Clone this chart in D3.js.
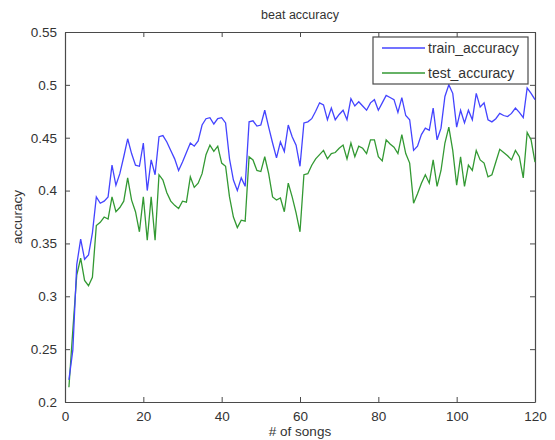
<!DOCTYPE html>
<html>
<head>
<meta charset="utf-8">
<script src="https://cdn.jsdelivr.net/npm/d3@7"></script>
<style>
  body { margin: 0; background: #fff; }
  svg text { font-family: "Liberation Sans", Arial, sans-serif; fill: #333; }
</style>
</head>
<body>
<svg id="chart" width="555" height="440"></svg>
<script>
// Data (songs 1..120)
const trainAcc = [
  0.221, 0.249, 0.330, 0.354, 0.335, 0.339, 0.360, 0.394, 0.388, 0.390,
  0.394, 0.424, 0.405, 0.416, 0.432, 0.449, 0.435, 0.424, 0.423, 0.445,
  0.400, 0.429, 0.415, 0.451, 0.452, 0.446, 0.438, 0.430, 0.419, 0.427,
  0.436, 0.445, 0.442, 0.447, 0.462, 0.468, 0.469, 0.463, 0.468, 0.469,
  0.464, 0.430, 0.410, 0.400, 0.412, 0.404, 0.465, 0.466, 0.461, 0.462,
  0.476, 0.460, 0.445, 0.431, 0.446, 0.437, 0.462, 0.451, 0.443, 0.423,
  0.464, 0.465, 0.468, 0.475, 0.483, 0.481, 0.467, 0.478, 0.467, 0.472,
  0.476, 0.467, 0.487, 0.480, 0.484, 0.480, 0.476, 0.483, 0.486, 0.476,
  0.483, 0.490, 0.488, 0.486, 0.474, 0.488, 0.471, 0.467, 0.438, 0.442,
  0.453, 0.459, 0.457, 0.478, 0.448, 0.459, 0.489, 0.500, 0.492, 0.460,
  0.476, 0.464, 0.476, 0.467, 0.492, 0.479, 0.483, 0.467, 0.465, 0.468,
  0.473, 0.471, 0.470, 0.473, 0.478, 0.474, 0.469, 0.497, 0.492, 0.486
];
const testAcc = [
  0.214, 0.268, 0.320, 0.336, 0.315, 0.310, 0.318, 0.367, 0.370, 0.375,
  0.373, 0.394, 0.380, 0.384, 0.390, 0.412, 0.391, 0.380, 0.361, 0.394,
  0.353, 0.394, 0.353, 0.415, 0.410, 0.398, 0.390, 0.386, 0.383, 0.390,
  0.389, 0.413, 0.403, 0.407, 0.416, 0.434, 0.443, 0.437, 0.442, 0.426,
  0.423, 0.394, 0.375, 0.365, 0.372, 0.371, 0.432, 0.429, 0.419, 0.418,
  0.432, 0.416, 0.394, 0.391, 0.393, 0.380, 0.407, 0.394, 0.379, 0.361,
  0.415, 0.416, 0.424, 0.430, 0.434, 0.438, 0.430, 0.435, 0.436, 0.440,
  0.443, 0.430, 0.445, 0.432, 0.442, 0.440, 0.435, 0.448, 0.448, 0.432,
  0.428, 0.448, 0.444, 0.441, 0.435, 0.453, 0.435, 0.426, 0.388, 0.397,
  0.407, 0.415, 0.407, 0.429, 0.404, 0.419, 0.445, 0.460, 0.438, 0.405,
  0.432, 0.404, 0.424, 0.419, 0.438, 0.429, 0.426, 0.413, 0.415, 0.427,
  0.439, 0.436, 0.433, 0.429, 0.438, 0.432, 0.412, 0.455, 0.448, 0.427
];
const xTicks = [0, 20, 40, 60, 80, 100, 120];
const yTicks = [0.2, 0.25, 0.3, 0.35, 0.4, 0.45, 0.5, 0.55];
const seriesNames = ["train_accuracy", "test_accuracy"];

const colors = { train: "#4444ff", test: "#339933", frame: "#4a4a4a" };

const margin = { top: 32, right: 20, bottom: 38, left: 65 };
const W = 555, H = 440;
const width = W - margin.left - margin.right;   // 470
const height = H - margin.top - margin.bottom;  // 370

const svg = d3.select("#chart");
const g = svg.append("g").attr("transform", `translate(${margin.left},${margin.top})`);

const x = d3.scaleLinear().domain([0, 120]).range([0, width]);
const y = d3.scaleLinear().domain([0.2, 0.55]).range([height, 0]);

const fmt = d => d3.format("")(+d.toFixed(2));

// axes: ticks pointing inward on all four sides
const axB = g.append("g").attr("transform", `translate(0,${height})`)
  .call(d3.axisBottom(x).tickValues(xTicks).tickSizeInner(-5).tickSizeOuter(0).tickPadding(9));
const axT = g.append("g")
  .call(d3.axisTop(x).tickValues(xTicks).tickSizeInner(-5).tickSizeOuter(0).tickFormat(""));
const axL = g.append("g")
  .call(d3.axisLeft(y).tickValues(yTicks).tickSizeInner(-5).tickSizeOuter(0).tickPadding(8).tickFormat(fmt));
const axR = g.append("g").attr("transform", `translate(${width},0)`)
  .call(d3.axisRight(y).tickValues(yTicks).tickSizeInner(-5).tickSizeOuter(0).tickFormat(""));

[axB, axT, axL, axR].forEach(a => {
  a.select(".domain").attr("stroke", colors.frame).attr("stroke-width", 1.2);
  a.selectAll(".tick line").attr("stroke", colors.frame);
  a.selectAll("text").style("font-size", "13.5px").attr("fill", "#3a3a3a");
});

// lines
const line = d3.line().x((d, i) => x(i + 1)).y(d => y(d));

g.append("path").datum(testAcc)
  .attr("fill", "none").attr("stroke", colors.test).attr("stroke-width", 1.3)
  .attr("d", line);
g.append("path").datum(trainAcc)
  .attr("fill", "none").attr("stroke", colors.train).attr("stroke-width", 1.3)
  .attr("d", line);

// legend
const leg = g.append("g").attr("transform", `translate(${373 - margin.left},${37 - margin.top})`);
leg.append("rect").attr("width", 155).attr("height", 47)
  .attr("fill", "#fff").attr("stroke", colors.frame).attr("stroke-width", 1.2);
[colors.train, colors.test].forEach((c, i) => {
  const yy = 11 + i * 25;
  leg.append("line").attr("x1", 9).attr("x2", 52).attr("y1", yy).attr("y2", yy)
    .attr("stroke", c).attr("stroke-width", 1.3);
  leg.append("text").attr("x", 55).attr("y", yy + 5)
    .style("font-size", "14px").text(seriesNames[i]);
});

// titles
svg.append("text").attr("x", margin.left + width / 2).attr("y", 19)
  .attr("text-anchor", "middle").style("font-size", "12.5px").text("beat accuracy");
svg.append("text").attr("x", margin.left + width / 2).attr("y", 436)
  .attr("text-anchor", "middle").style("font-size", "13.5px").text("# of songs");
svg.append("text").attr("transform", `translate(22,${margin.top + height / 2}) rotate(-90)`)
  .attr("text-anchor", "middle").style("font-size", "13.5px").text("accuracy");
</script>
</body>
</html>
